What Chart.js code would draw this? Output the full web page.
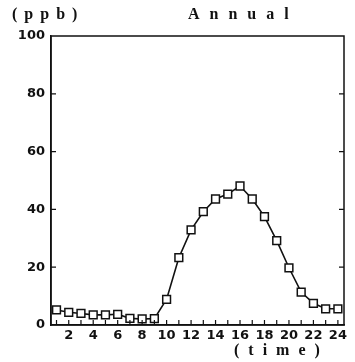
<!DOCTYPE html>
<html>
<head>
<meta charset="utf-8">
<script src="https://cdn.jsdelivr.net/npm/chart.js@4"></script>
<style>
  html, body { margin: 0; padding: 0; background: #fff; }
  #wrap { width: 355px; height: 362px; }
</style>
</head>
<body>
<div id="wrap"><canvas id="chart" width="355" height="362"></canvas></div>
<script>
// hourly values
const hours = [1, 2, 3, 4, 5, 6, 7, 8, 9, 10, 11, 12, 13, 14, 15, 16, 17, 18, 19, 20, 21, 22, 23, 24];
const ppb = [5.2, 4.4, 4.0, 3.5, 3.5, 3.7, 2.3, 2.1, 2.2, 8.9, 23.3, 32.9, 39.2, 43.6, 45.3, 48.1, 43.6, 37.5, 29.2, 19.8, 11.4, 7.5, 5.6, 5.6];
const yTicks = [0, 20, 40, 60, 80, 100];
const xLabels = [2, 4, 6, 8, 10, 12, 14, 16, 18, 20, 22, 24];

const INK = "#111";
const tickFont = { family: "DejaVu Sans", size: 13, weight: "bold" };

// inward ticks, frame and the text around the plot
const framePlugin = {
  id: "frame",
  afterDraw(chart) {
    const { ctx, chartArea: a, scales } = chart;
    ctx.save();
    ctx.strokeStyle = INK;
    ctx.lineWidth = 1.5;
    ctx.strokeRect(a.left, a.top, a.right - a.left, a.bottom - a.top);

    ctx.lineWidth = 1.2;
    ctx.beginPath();
    hours.forEach((h) => {
      const x = scales.x.getPixelForValue(h);
      ctx.moveTo(x, a.bottom);
      ctx.lineTo(x, a.bottom - 5);
    });
    yTicks.slice(1, -1).forEach((v) => {
      const y = scales.y.getPixelForValue(v);
      ctx.moveTo(a.left, y);
      ctx.lineTo(a.left + 5, y);
      ctx.moveTo(a.right, y);
      ctx.lineTo(a.right - 5, y);
    });
    ctx.stroke();

    ctx.fillStyle = INK;
    ctx.font = "bold 16px 'Liberation Serif'";
    ctx.textBaseline = "alphabetic";
    ctx.textAlign = "left";
    ctx.letterSpacing = "7px";
    ctx.fillText("(ppb)", 12, 19);
    ctx.letterSpacing = "10px";
    ctx.fillText("Annual", 188, 19);
    ctx.letterSpacing = "9px";
    ctx.fillText("(time)", 234, 355);
    ctx.restore();
  },
};

new Chart(document.getElementById("chart"), {
  type: "line",
  data: {
    datasets: [
      {
        data: hours.map((h, i) => ({ x: h, y: ppb[i] })),
        borderColor: INK,
        borderWidth: 1.6,
        pointStyle: "rect",
        pointRadius: 5.5,
        pointBackgroundColor: "#fff",
        pointBorderColor: INK,
        pointBorderWidth: 1.5,
        tension: 0,
      },
    ],
  },
  options: {
    responsive: false,
    animation: false,
    layout: { padding: { top: 36, right: 11, left: 0, bottom: 0 } },
    plugins: { legend: { display: false }, tooltip: { enabled: false } },
    scales: {
      x: {
        type: "linear",
        min: 0.55,
        max: 24.5,
        afterBuildTicks: (s) => { s.ticks = xLabels.map((v) => ({ value: v })); },
        afterFit: (s) => { s.height = 37; },
        ticks: { color: INK, font: tickFont, padding: 3, maxRotation: 0, autoSkip: false },
        grid: { display: false, drawTicks: false },
        border: { display: true, color: INK, width: 1.5 },
      },
      y: {
        min: 0,
        max: 100,
        afterBuildTicks: (s) => { s.ticks = yTicks.map((v) => ({ value: v })); },
        afterFit: (s) => { s.width = 51; },
        ticks: { color: INK, font: tickFont, padding: 6 },
        grid: { display: false, drawTicks: false },
        border: { display: true, color: INK, width: 1.5 },
      },
    },
  },
  plugins: [framePlugin],
});
</script>
</body>
</html>
